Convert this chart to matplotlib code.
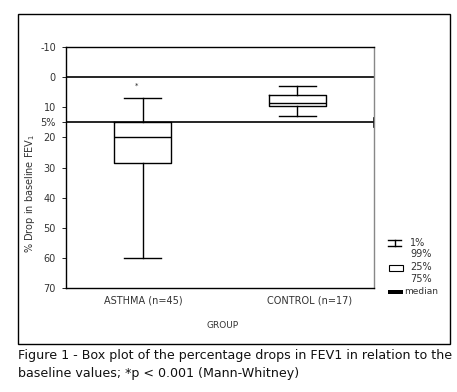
import matplotlib
matplotlib.use("Agg")
import matplotlib.pyplot as plt
from matplotlib.patches import Rectangle
from matplotlib.lines import Line2D

# ---- data ----
groups = ["ASTHMA (n=45)", "CONTROL (n=17)"]
p1 = [7, 3]          # upper whisker (1%)
q25 = [15, 6.1]
medians = [20, 8.6]
q75 = [28.6, 9.6]
p99 = [60, 13]
outlier_mark = [3]   # asterisk position above asthma
ref_lines = [0, 15]
ytick_vals = [-10, 0, 10, 15, 20, 30, 40, 50, 60, 70]
ytick_labels = ["-10", "0", "10", "5%", "20", "30", "40", "50", "60", "70"]
caption1 = "Figure 1 - Box plot of the percentage drops in FEV1 in relation to the"
caption2 = "baseline values; *p < 0.001 (Mann-Whitney)"

W, H = 457, 392
fig = plt.figure(figsize=(W / 100, H / 100), dpi=100)

# outer frame
fig.patches.append(Rectangle((18 / W, 1 - 344 / H), (450 - 18) / W, (344 - 14) / H,
                             transform=fig.transFigure, fill=False, ec="black", lw=1.0))

ax = fig.add_axes([65.7 / W, 1 - 288.3 / H, (374.3 - 65.7) / W, (288.3 - 46.7) / H])

stats = []
for i in range(len(groups)):
    stats.append(dict(med=medians[i], q1=q25[i], q3=q75[i], whislo=p1[i], whishi=p99[i],
                      fliers=[], label=groups[i]))
ax.bxp(stats, positions=[1, 2], widths=0.37, capwidths=0.24, showfliers=False,
       boxprops=dict(color="black", lw=1.0),
       whiskerprops=dict(color="black", lw=1.0),
       capprops=dict(color="black", lw=1.0),
       medianprops=dict(color="black", lw=1.0))

for v in ref_lines:
    ax.axhline(v, color="black", lw=1.2, zorder=1)

ax.text(0.96, outlier_mark[0], "*", ha="center", va="center", fontsize=5, color="#222")

ax.set_xlim(0.5, 2.5)
ax.set_ylim(70, -10)
ax.set_yticks(ytick_vals)
ax.set_yticklabels(ytick_labels)
ax.set_xticks([])
ax.tick_params(axis="y", length=3, width=0.6, labelsize=7, labelcolor="#333", pad=4)
for s in ["top", "bottom", "left"]:
    ax.spines[s].set_color("black")
    ax.spines[s].set_linewidth(1.0)
ax.spines["right"].set_color("#888")
ax.spines["right"].set_linewidth(1.0)
# small tick at right end of 15 line
ax.plot([2.5, 2.5], [13.5, 16.5], color="black", lw=1.2, clip_on=False)

# x labels
ax.text(1.0, 72.5, groups[0], ha="center", va="top", fontsize=7, color="#333")
ax.text(2.08, 72.5, groups[1], ha="center", va="top", fontsize=7, color="#333")
fig.text(223 / W, 1 - 325 / H, "GROUP", ha="center", va="center", fontsize=6.5, color="#333")

fig.text(30 / W, 1 - 193 / H, "% Drop in baseline FEV$_1$", rotation=90,
         ha="center", va="center", fontsize=7, color="#333")

# legend
def fx(x):
    return x / W
def fy(y):
    return 1 - y / H
lc = "black"
fig.add_artist(Line2D([fx(388), fx(401)], [fy(240.5), fy(240.5)], color=lc, lw=1, transform=fig.transFigure))
fig.add_artist(Line2D([fx(388), fx(401)], [fy(245.5), fy(245.5)], color=lc, lw=1, transform=fig.transFigure))
fig.add_artist(Line2D([fx(394.5), fx(394.5)], [fy(240.5), fy(245.5)], color=lc, lw=1, transform=fig.transFigure))
fig.text(fx(410), fy(243), "1%", fontsize=7, color="#333", va="center")
fig.text(fx(410), fy(254), "99%", fontsize=7, color="#333", va="center")
fig.patches.append(Rectangle((fx(389), fy(271)), 14 / W, 6 / H, transform=fig.transFigure,
                             fill=False, ec="black", lw=0.8))
fig.text(fx(410), fy(267), "25%", fontsize=7, color="#333", va="center")
fig.text(fx(410), fy(279), "75%", fontsize=7, color="#333", va="center")
fig.patches.append(Rectangle((fx(388), fy(293.5)), 15 / W, 4 / H, transform=fig.transFigure,
                             fill=True, fc="black", ec="none"))
fig.text(fx(404), fy(291.5), "median", fontsize=6.5, color="#333", va="center")

# caption
fig.text(18 / W, 1 - 355 / H, caption1, fontsize=9.1, family="DejaVu Sans", va="center", ha="left", color="#111")
fig.text(18 / W, 1 - 373 / H, caption2, fontsize=9.1, family="DejaVu Sans", va="center", ha="left", color="#111")

fig.savefig("out.png", dpi=100)
